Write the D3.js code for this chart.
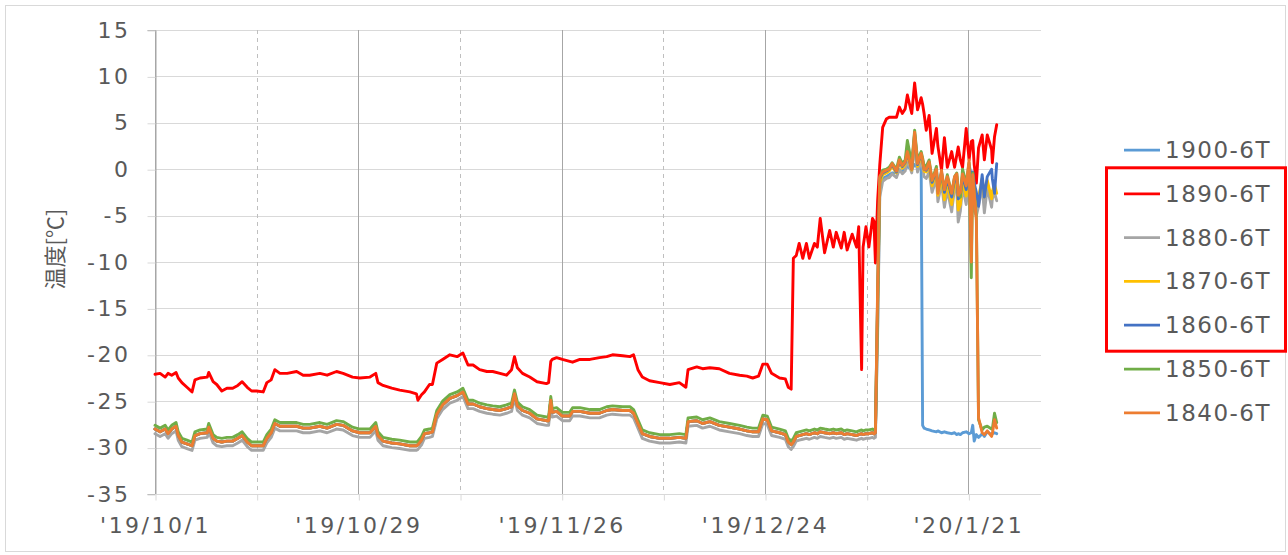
<!DOCTYPE html>
<html>
<head>
<meta charset="utf-8">
<script src="https://cdn.jsdelivr.net/npm/d3@7"></script>
<style>
  html, body { margin: 0; padding: 0; background: #ffffff; }
  svg { display: block; }
</style>
</head>
<body>
<svg id="chart" width="1288" height="555"></svg>
<script>
// Sampling times, in days after 2019-10-01 00:00
const dayOffsets = [
  0,0.7,1.4,1.8,2.3,2.9,3.2,3.7,4.4,5.1,
  5.5,6.2,7.2,7.4,8.0,8.5,9.2,9.9,10.7,11.4,
  12.0,12.7,13.3,14.0,14.9,15.4,16.0,16.5,17.2,18.2,
  19.5,20.4,21.3,22.7,23.7,25.0,25.9,27.2,28.2,29.6,
  30.4,30.7,31.4,32.6,33.7,35.1,36.0,36.2,36.7,37.1,
  37.8,38.2,38.8,39.6,40.6,41.6,42.4,43.1,43.8,44.7,
  45.7,46.5,47.5,48.4,49.1,49.5,49.9,50.6,51.6,52.6,
  53.9,54.2,54.5,54.7,55.3,56.1,57.1,57.5,58.5,59.9,
  61.2,62.2,63.0,64.4,65.4,65.9,66.5,67.1,68.1,69.5,
  70.9,72.2,73.1,73.4,74.6,75.4,76.4,77.7,79.1,80.5,
  81.5,82.3,83.1,83.7,84.3,84.9,86.0,86.8,87.2,87.6,
  87.9,88.3,88.7,89.2,89.7,90.1,90.8,91.2,91.6,92.2,
  92.9,93.4,93.8,94.5,94.9,95.3,96.0,96.6,96.9,97.3,
  97.5,97.9,98.3,98.8,99.0,99.2,99.5,99.8,100.2,100.7,
  101.1,101.5,102.1,102.5,102.9,103.3,103.6,104.2,104.6,105.0,
  105.5,105.7,105.9,106.2,106.6,107.0,107.6,107.8,108.3,108.7,
  109.1,109.7,110.1,110.4,110.6,110.9,111.2,111.7,112.1,112.4,
  112.6,112.8,113.1,113.4,113.9,114.2,114.6,115.2,115.3,115.6,
  115.9
];

// Temperatures [°C] per sensor, one value per sampling time
const s1900 = [
  -28.0,-28.3,-28.0,-28.5,-28.0,-27.7,-28.7,-29.4,-29.6,-29.8,
  -28.7,-28.5,-28.4,-27.8,-29.0,-29.3,-29.4,-29.3,-29.3,-29.0,
  -28.7,-29.4,-29.8,-29.8,-29.8,-29.0,-28.4,-27.4,-27.7,-27.7,
  -27.7,-27.9,-27.9,-27.7,-27.9,-27.5,-27.6,-28.2,-28.4,-28.4,
  -27.7,-28.7,-29.3,-29.5,-29.6,-29.8,-29.8,-29.7,-29.2,-28.5,
  -28.4,-28.3,-26.4,-25.4,-24.7,-24.4,-24.0,-25.3,-25.3,-25.6,
  -25.8,-25.9,-26.0,-25.8,-25.6,-24.2,-25.5,-26.0,-26.3,-26.9,
  -27.1,-27.1,-24.9,-26.2,-26.1,-26.6,-26.6,-26.1,-26.1,-26.3,
  -26.3,-26.0,-25.9,-26.0,-26.0,-26.3,-27.4,-28.5,-28.8,-29.0,
  -29.0,-28.9,-29.0,-27.2,-27.1,-27.4,-27.2,-27.6,-27.8,-28.0,
  -28.2,-28.3,-28.3,-26.9,-27.0,-28.2,-28.4,-28.6,-29.4,-29.7,
  -29.4,-28.8,-28.7,-28.6,-28.5,-28.6,-28.4,-28.5,-28.3,-28.4,
  -28.5,-28.4,-28.5,-28.4,-28.6,-28.5,-28.6,-28.7,-28.6,-28.5,
  -28.6,-28.5,-28.5,-28.4,-28.5,-28.4,-17.0,-2.0,-1.0,-0.8,
  -0.6,-0.4,-0.4,-0.2,-0.2,0.0,0.3,0.0,0.5,0.2,
  0.3,-27.6,-27.9,-28.0,-28.1,-28.2,-28.3,-28.2,-28.4,-28.3,
  -28.4,-28.5,-28.4,-28.6,-28.5,-28.6,-28.4,-28.3,-28.5,-28.4,
  -27.6,-29.3,-28.6,-28.9,-28.5,-28.8,-28.3,-28.6,-28.5,-28.4,
  -28.5
];
const s1890 = [
  -22.1,-22.0,-22.4,-22.0,-22.2,-21.9,-22.5,-23.0,-23.5,-24.0,
  -22.7,-22.5,-22.4,-21.9,-22.9,-23.2,-23.9,-23.6,-23.6,-23.3,
  -22.9,-23.5,-23.9,-23.9,-24.0,-23.0,-22.7,-21.6,-22.0,-22.0,
  -21.8,-22.2,-22.2,-22.0,-22.2,-21.8,-22.0,-22.4,-22.5,-22.4,
  -22.0,-23.0,-23.3,-23.6,-23.8,-24.0,-24.2,-24.9,-24.3,-24.0,
  -23.2,-23.2,-20.9,-20.5,-20.0,-20.2,-19.8,-21.1,-21.1,-21.6,
  -21.8,-21.8,-22.0,-22.2,-21.6,-20.2,-21.4,-22.0,-22.4,-22.9,
  -23.1,-23.0,-20.7,-20.5,-20.3,-20.5,-20.7,-20.8,-20.5,-20.5,
  -20.3,-20.2,-20.0,-20.1,-20.2,-20.0,-21.6,-22.4,-22.8,-23.0,
  -23.2,-23.0,-23.5,-21.6,-21.3,-21.5,-21.4,-21.5,-22.0,-22.2,
  -22.3,-22.5,-22.3,-21.0,-21.0,-22.0,-22.5,-22.6,-23.5,-23.7,
  -9.6,-9.3,-8.0,-9.6,-8.0,-9.6,-8.0,-8.4,-5.3,-9.0,
  -6.6,-8.4,-6.8,-8.5,-6.8,-8.7,-7.0,-8.4,-6.2,-21.6,
  -8.4,-6.2,-8.4,-5.3,-5.6,-10.1,-3.5,0.5,4.5,5.4,
  5.6,5.6,5.6,6.7,6.0,6.5,8.0,6.0,9.3,6.4,
  7.7,7.0,6.0,4.2,5.8,1.7,4.4,2.5,-0.1,3.4,
  0.2,1.9,0.2,1.5,2.4,1.0,0.2,4.4,1.0,3.0,
  3.1,0.5,-1.5,2.3,3.7,1.0,3.7,2.1,0.7,3.5,
  4.8
];
const s1880 = [
  -28.5,-28.8,-28.5,-29.0,-28.5,-28.2,-29.2,-29.9,-30.1,-30.3,
  -29.2,-29.0,-28.9,-28.3,-29.5,-29.8,-29.9,-29.8,-29.8,-29.5,
  -29.2,-29.9,-30.3,-30.3,-30.3,-29.5,-28.9,-27.9,-28.2,-28.2,
  -28.2,-28.4,-28.4,-28.2,-28.4,-28.0,-28.1,-28.7,-28.9,-28.9,
  -28.2,-29.2,-29.8,-30.0,-30.1,-30.3,-30.3,-30.2,-29.7,-29.0,
  -28.9,-28.8,-26.9,-25.9,-25.2,-24.9,-24.5,-25.8,-25.8,-26.1,
  -26.3,-26.4,-26.5,-26.3,-26.1,-24.7,-26.0,-26.5,-26.8,-27.4,
  -27.6,-27.6,-25.4,-26.7,-26.6,-27.1,-27.1,-26.6,-26.6,-26.8,
  -26.8,-26.5,-26.4,-26.5,-26.5,-26.8,-27.9,-29.0,-29.3,-29.5,
  -29.5,-29.4,-29.5,-27.7,-27.6,-27.9,-27.7,-28.1,-28.3,-28.5,
  -28.7,-28.8,-28.8,-27.4,-27.5,-28.7,-28.9,-29.1,-29.9,-30.2,
  -29.9,-29.3,-29.2,-29.1,-29.0,-29.1,-28.9,-29.0,-28.8,-28.9,
  -29.0,-28.9,-29.0,-28.9,-29.1,-29.0,-29.1,-29.2,-29.1,-29.0,
  -29.1,-29.0,-29.0,-28.9,-29.0,-28.9,-18.0,-3.0,-1.3,-1.0,
  -0.9,-0.5,-0.9,0.0,-0.5,-0.2,1.0,-0.4,2.5,-0.3,
  0.8,0.2,-0.8,-1.0,-0.3,-2.5,-1.0,-3.5,-1.5,-4.1,
  -2.2,-4.6,-2.0,-2.2,-5.7,-4.5,-1.8,-3.8,-0.8,-2.5,
  -1.8,-4.5,-5.0,-4.0,-1.8,-4.7,-2.0,-4.1,-3.2,-2.5,
  -3.4
];
const s1870 = [
  -28.0,-28.3,-28.0,-28.5,-28.0,-27.7,-28.7,-29.4,-29.6,-29.8,
  -28.7,-28.5,-28.4,-27.8,-29.0,-29.3,-29.4,-29.3,-29.3,-29.0,
  -28.7,-29.4,-29.8,-29.8,-29.8,-29.0,-28.4,-27.4,-27.7,-27.7,
  -27.7,-27.9,-27.9,-27.7,-27.9,-27.5,-27.6,-28.2,-28.4,-28.4,
  -27.7,-28.7,-29.3,-29.5,-29.6,-29.8,-29.8,-29.7,-29.2,-28.5,
  -28.4,-28.3,-26.4,-25.4,-24.7,-24.4,-24.0,-25.3,-25.3,-25.6,
  -25.8,-25.9,-26.0,-25.8,-25.6,-24.2,-25.5,-26.0,-26.3,-26.9,
  -27.1,-27.1,-24.9,-26.2,-26.1,-26.6,-26.6,-26.1,-26.1,-26.3,
  -26.3,-26.0,-25.9,-26.0,-26.0,-26.3,-27.4,-28.5,-28.8,-29.0,
  -29.0,-28.9,-29.0,-27.2,-27.1,-27.4,-27.2,-27.6,-27.8,-28.0,
  -28.2,-28.3,-28.3,-26.9,-27.0,-28.2,-28.4,-28.6,-29.4,-29.7,
  -29.4,-28.8,-28.7,-28.6,-28.5,-28.6,-28.4,-28.5,-28.3,-28.4,
  -28.5,-28.4,-28.5,-28.4,-28.6,-28.5,-28.6,-28.7,-28.6,-28.5,
  -28.6,-28.5,-28.5,-28.4,-28.5,-28.4,-15.0,-1.5,-0.6,-0.4,
  -0.2,0.3,-0.4,0.7,0.1,0.5,1.6,-0.1,3.5,0.3,
  1.4,0.7,-0.2,-0.3,0.4,-1.8,-0.3,-2.8,-0.8,-3.3,
  -1.5,-3.8,-1.4,-1.5,-4.4,-3.8,-1.2,-2.9,0.2,-1.5,
  -1.0,-3.3,-4.0,-3.0,-1.0,-3.0,-1.2,-3.2,-2.4,-1.6,
  -2.6
];
const s1860 = [
  -28.0,-28.3,-28.0,-28.5,-28.0,-27.7,-28.7,-29.4,-29.6,-29.8,
  -28.7,-28.5,-28.4,-27.8,-29.0,-29.3,-29.4,-29.3,-29.3,-29.0,
  -28.7,-29.4,-29.8,-29.8,-29.8,-29.0,-28.4,-27.4,-27.7,-27.7,
  -27.7,-27.9,-27.9,-27.7,-27.9,-27.5,-27.6,-28.2,-28.4,-28.4,
  -27.7,-28.7,-29.3,-29.5,-29.6,-29.8,-29.8,-29.7,-29.2,-28.5,
  -28.4,-28.3,-26.4,-25.4,-24.7,-24.4,-24.0,-25.3,-25.3,-25.6,
  -25.8,-25.9,-26.0,-25.8,-25.6,-24.2,-25.5,-26.0,-26.3,-26.9,
  -27.1,-27.1,-24.9,-26.2,-26.1,-26.6,-26.6,-26.1,-26.1,-26.3,
  -26.3,-26.0,-25.9,-26.0,-26.0,-26.3,-27.4,-28.5,-28.8,-29.0,
  -29.0,-28.9,-29.0,-27.2,-27.1,-27.4,-27.2,-27.6,-27.8,-28.0,
  -28.2,-28.3,-28.3,-26.9,-27.0,-28.2,-28.4,-28.6,-29.4,-29.7,
  -29.4,-28.8,-28.7,-28.6,-28.5,-28.6,-28.4,-28.5,-28.3,-28.4,
  -28.5,-28.4,-28.5,-28.4,-28.6,-28.5,-28.6,-28.7,-28.6,-28.5,
  -28.6,-28.5,-28.5,-28.4,-28.5,-28.4,-14.0,-1.0,-0.4,-0.2,
  0.0,0.5,-0.3,0.9,0.3,0.7,1.8,0.0,3.8,0.5,
  1.6,0.9,0.0,-0.1,0.7,-1.4,-0.1,-2.0,-0.3,-2.5,
  -1.0,-3.0,-1.0,-0.8,-3.2,-2.8,-0.7,-2.2,0.5,-0.8,
  -0.3,-1.5,-2.5,-4.0,-0.6,-3.0,-0.8,0.0,-1.0,-2.6,
  0.6
];
const s1850 = [
  -27.6,-27.9,-27.6,-28.1,-27.6,-27.3,-28.3,-29.0,-29.2,-29.4,
  -28.3,-28.1,-28.0,-27.4,-28.6,-28.9,-29.0,-28.9,-28.9,-28.6,
  -28.3,-29.0,-29.4,-29.4,-29.4,-28.6,-28.0,-27.0,-27.3,-27.3,
  -27.3,-27.5,-27.5,-27.3,-27.5,-27.1,-27.2,-27.8,-28.0,-28.0,
  -27.3,-28.3,-28.9,-29.1,-29.2,-29.4,-29.4,-29.3,-28.8,-28.1,
  -28.0,-27.9,-26.0,-25.0,-24.3,-24.0,-23.6,-24.9,-24.9,-25.2,
  -25.4,-25.5,-25.6,-25.4,-25.2,-23.8,-25.1,-25.6,-25.9,-26.5,
  -26.7,-26.7,-24.5,-25.8,-25.7,-26.2,-26.2,-25.7,-25.7,-25.9,
  -25.9,-25.6,-25.5,-25.6,-25.6,-25.9,-27.0,-28.1,-28.4,-28.6,
  -28.6,-28.5,-28.6,-26.8,-26.7,-27.0,-26.8,-27.2,-27.4,-27.6,
  -27.8,-27.9,-27.9,-26.5,-26.6,-27.8,-28.0,-28.2,-29.0,-29.3,
  -29.0,-28.4,-28.3,-28.2,-28.1,-28.2,-28.0,-28.1,-27.9,-28.0,
  -28.1,-28.0,-28.1,-28.0,-28.2,-28.1,-28.2,-28.3,-28.2,-28.1,
  -28.2,-28.1,-28.1,-28.0,-28.1,-28.0,-14.0,-1.0,-0.1,0.0,
  0.2,0.7,0.0,1.3,0.6,1.0,3.1,0.6,4.2,1.0,
  1.9,1.2,0.4,0.3,1.0,-1.2,0.3,-2.4,-0.4,-2.2,
  -0.6,-2.6,-0.8,-0.4,-2.0,-3.0,0.0,-1.5,0.7,-11.7,
  -0.4,-2.5,-5.2,-27.0,-28.1,-27.8,-27.7,-28.0,-28.0,-26.3,
  -27.3
];
const s1840 = [
  -28.0,-28.3,-28.0,-28.5,-28.0,-27.7,-28.7,-29.4,-29.6,-29.8,
  -28.7,-28.5,-28.4,-27.8,-29.0,-29.3,-29.4,-29.3,-29.3,-29.0,
  -28.7,-29.4,-29.8,-29.8,-29.8,-29.0,-28.4,-27.4,-27.7,-27.7,
  -27.7,-27.9,-27.9,-27.7,-27.9,-27.5,-27.6,-28.2,-28.4,-28.4,
  -27.7,-28.7,-29.3,-29.5,-29.6,-29.8,-29.8,-29.7,-29.2,-28.5,
  -28.4,-28.3,-26.4,-25.4,-24.7,-24.4,-24.0,-25.3,-25.3,-25.6,
  -25.8,-25.9,-26.0,-25.8,-25.6,-24.2,-25.5,-26.0,-26.3,-26.9,
  -27.1,-27.1,-24.9,-26.2,-26.1,-26.6,-26.6,-26.1,-26.1,-26.3,
  -26.3,-26.0,-25.9,-26.0,-26.0,-26.3,-27.4,-28.5,-28.8,-29.0,
  -29.0,-28.9,-29.0,-27.2,-27.1,-27.4,-27.2,-27.6,-27.8,-28.0,
  -28.2,-28.3,-28.3,-26.9,-27.0,-28.2,-28.4,-28.6,-29.4,-29.7,
  -29.4,-28.8,-28.7,-28.6,-28.5,-28.6,-28.4,-28.5,-28.3,-28.4,
  -28.5,-28.4,-28.5,-28.4,-28.6,-28.5,-28.6,-28.7,-28.6,-28.5,
  -28.6,-28.5,-28.5,-28.4,-28.5,-28.4,-13.0,-0.8,-0.3,-0.1,
  0.0,0.6,-0.2,1.0,0.4,0.8,1.9,0.0,4.0,0.6,
  1.7,1.0,0.0,0.0,0.8,-1.2,0.0,-2.6,-0.1,-2.2,
  -0.8,-2.6,-0.8,-0.5,-2.8,-2.5,-0.5,-1.8,1.0,-10.0,
  -0.6,-2.5,-5.5,-26.8,-28.4,-28.6,-28.2,-28.8,-28.5,-27.0,
  -27.9
];

const seriesNames  = ["1900-6T", "1890-6T", "1880-6T", "1870-6T", "1860-6T", "1850-6T", "1840-6T"];
const seriesValues = [s1900, s1890, s1880, s1870, s1860, s1850, s1840];
const seriesColors = ["#5B9BD5", "#FF0000", "#A5A5A5", "#FFC000", "#4472C4", "#70AD47", "#ED7D31"];

const yTicks = [-35, -30, -25, -20, -15, -10, -5, 0, 5, 10, 15];
const majorTickDates = ["2019-10-01", "2019-10-29", "2019-11-26", "2019-12-24", "2020-01-21"];
const minorTickDates = ["2019-10-15", "2019-11-12", "2019-12-10", "2020-01-07"];
const axisStart = "2019-10-01";
const axisEnd = "2020-01-31";
const yTitle = "温度[℃]";
const highlighted = ["1890-6T", "1880-6T", "1870-6T", "1860-6T"];

// ---------------------------------------------------------------
const svg = d3.select("#chart");
const plot = { left: 155, right: 1041, top: 30, bottom: 494 };
const latinFont = "'DejaVu Sans', Verdana, sans-serif";
const cjkFont = "'Noto Sans CJK JP', 'DejaVu Sans', sans-serif";
const textColor = "#595959";

const parseDay = d3.utcParse("%Y-%m-%d");
const t0 = parseDay(axisStart);
const toDate = d => new Date(t0.getTime() + d * 864e5);

const x = d3.scaleUtc().domain([t0, parseDay(axisEnd)]).range([plot.left, plot.right]);
const y = d3.scaleLinear().domain([-35, 15]).range([plot.bottom, plot.top]);

// chart frame
svg.append("rect")
  .attr("x", 5.5).attr("y", 5.5).attr("width", 1280).attr("height", 546)
  .attr("fill", "#ffffff").attr("stroke", "#D9D9D9").attr("stroke-width", 1);

// horizontal gridlines
svg.append("g").selectAll("line").data(yTicks.slice(1)).join("line")
  .attr("x1", plot.left).attr("x2", plot.right)
  .attr("y1", d => Math.round(y(d)) + 0.5).attr("y2", d => Math.round(y(d)) + 0.5)
  .attr("stroke", "#D9D9D9").attr("stroke-width", 1);

// vertical gridlines: solid every four weeks, dashed in between
svg.append("g").selectAll("line").data(minorTickDates.map(parseDay)).join("line")
  .attr("x1", d => Math.round(x(d)) + 0.5).attr("x2", d => Math.round(x(d)) + 0.5)
  .attr("y1", plot.top).attr("y2", plot.bottom)
  .attr("stroke", "#BFBFBF").attr("stroke-width", 1).attr("stroke-dasharray", "4,4");
svg.append("g").selectAll("line").data(majorTickDates.map(parseDay)).join("line")
  .attr("x1", d => Math.round(x(d)) + 0.5).attr("x2", d => Math.round(x(d)) + 0.5)
  .attr("y1", plot.top).attr("y2", plot.bottom)
  .attr("stroke", "#A6A6A6").attr("stroke-width", 1);

// y axis
const yAxis = svg.append("g")
  .attr("transform", `translate(${plot.left + 0.5},0)`)
  .call(d3.axisLeft(y).tickValues(yTicks).tickSize(8).tickPadding(17).tickFormat(d3.format("d")));
yAxis.select(".domain").attr("stroke", "#A6A6A6");
yAxis.selectAll(".tick line").attr("stroke", "#D9D9D9").attr("transform", "translate(0,0.5)");
yAxis.selectAll(".tick text")
  .attr("fill", textColor).style("font-family", latinFont).style("font-size", "22px")
  .style("letter-spacing", "2.5px")
  .text(d => d < 0 ? "-" + Math.abs(d) : String(d));

// x axis
const allTicks = majorTickDates.concat(minorTickDates).map(parseDay).sort((a, b) => a - b);
const majorSet = new Set(majorTickDates.map(s => parseDay(s).getTime()));
const fmt = d3.utcFormat("'%y/%-m/%-d");
const xAxis = svg.append("g")
  .attr("transform", `translate(0,${Math.round(plot.bottom) + 0.5})`)
  .call(d3.axisBottom(x).tickValues(allTicks).tickSize(6).tickPadding(17)
    .tickFormat(d => majorSet.has(d.getTime()) ? fmt(d) : ""));
xAxis.select(".domain").attr("stroke", "#D9D9D9").attr("d", `M${plot.left},0H${plot.right}`);
xAxis.selectAll(".tick line").attr("stroke", "#D9D9D9").attr("transform", "translate(0.5,0)");
xAxis.selectAll(".tick text")
  .attr("fill", textColor).style("font-family", latinFont).style("font-size", "22px")
  .style("letter-spacing", "2.5px");

// y axis title
svg.append("text")
  .attr("transform", "translate(53,249) rotate(-90)")
  .attr("text-anchor", "middle").attr("dominant-baseline", "central")
  .attr("fill", textColor).style("font-family", cjkFont).style("font-size", "22px")
  .text(yTitle);

// series lines
const line = d3.line()
  .x((v, i) => x(toDate(dayOffsets[i])))
  .y(v => y(v));
svg.append("g").selectAll("path").data(seriesValues).join("path")
  .attr("d", line)
  .attr("fill", "none")
  .attr("stroke", (v, i) => seriesColors[i])
  .attr("stroke-width", 2.9)
  .attr("stroke-linejoin", "round")
  .attr("stroke-linecap", "round");

// legend
const legendTop = 150, legendStep = 43.8;
const legend = svg.append("g");
const rows = legend.selectAll("g").data(seriesNames).join("g")
  .attr("transform", (d, i) => `translate(0,${legendTop + i * legendStep})`);
rows.append("line")
  .attr("x1", 1124).attr("x2", 1160).attr("y1", 0).attr("y2", 0)
  .attr("stroke", (d, i) => seriesColors[i]).attr("stroke-width", 2.75);
rows.append("text")
  .attr("x", 1165).attr("y", 0).attr("dominant-baseline", "central")
  .attr("fill", textColor).style("font-family", latinFont).style("font-size", "23px")
  .style("letter-spacing", "1.5px")
  .text(d => d);

// box around the highlighted sensors
const firstHi = seriesNames.indexOf(highlighted[0]);
const lastHi = seriesNames.indexOf(highlighted[highlighted.length - 1]);
svg.append("rect")
  .attr("x", 1106.5)
  .attr("y", legendTop + firstHi * legendStep - 26)
  .attr("width", 179)
  .attr("height", (lastHi - firstHi) * legendStep + 52)
  .attr("fill", "none").attr("stroke", "#FF0000").attr("stroke-width", 3);
</script>
</body>
</html>
